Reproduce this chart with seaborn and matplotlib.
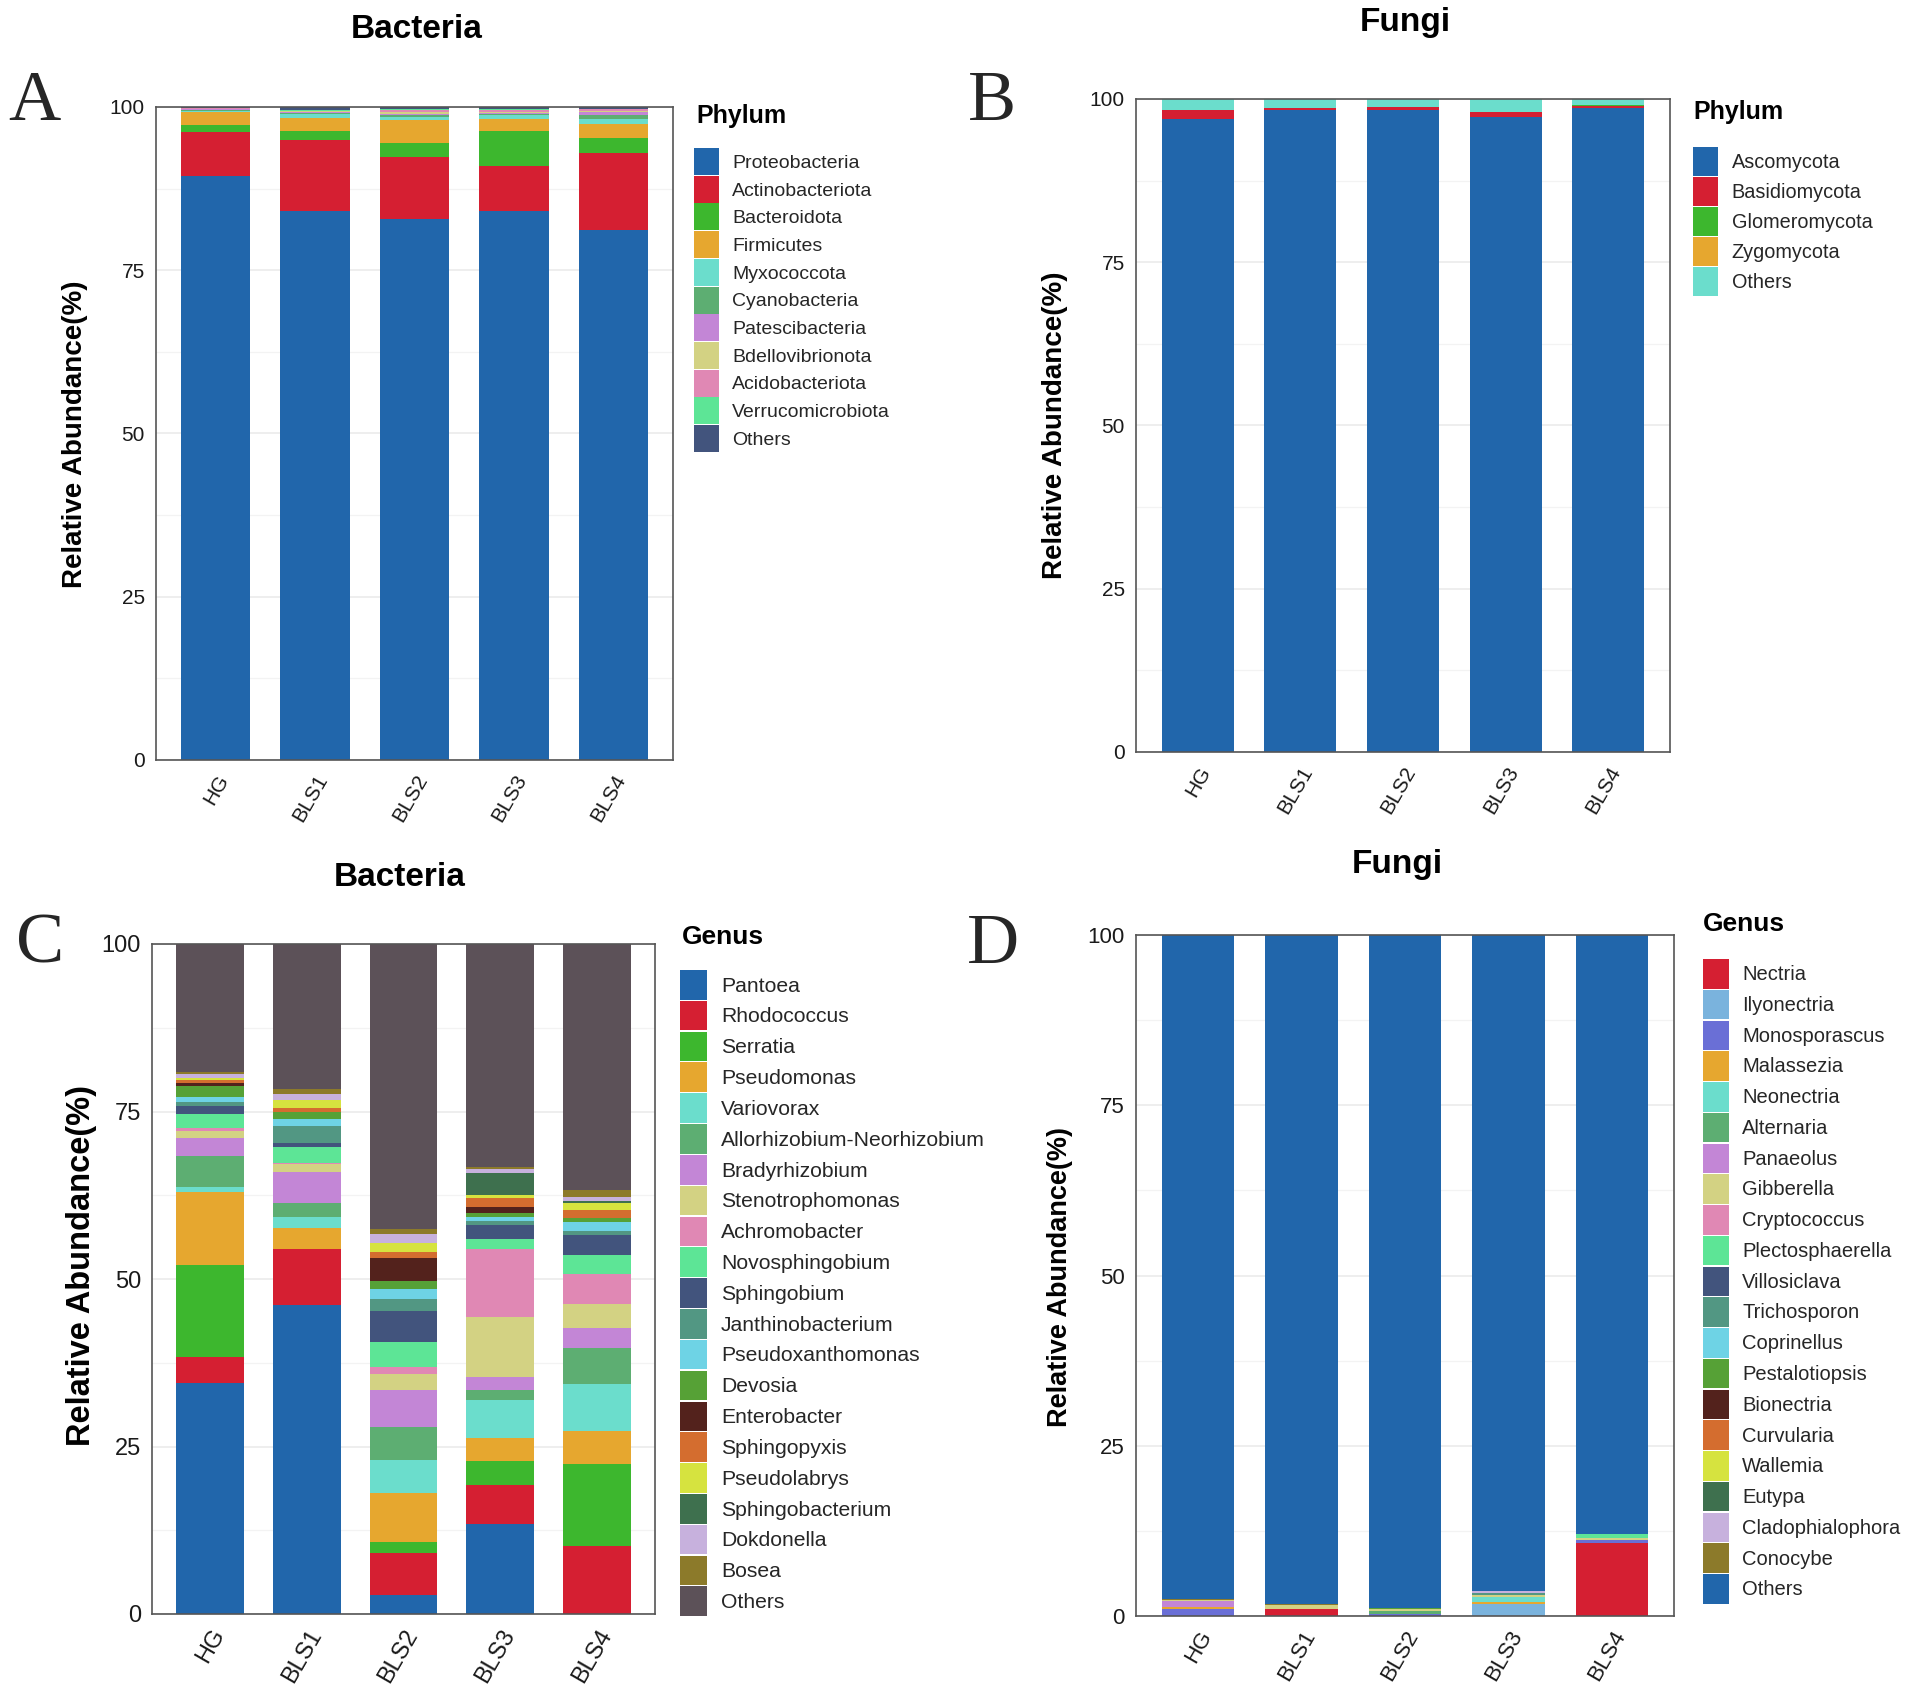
import pandas as pd
import matplotlib
matplotlib.use("Agg")
import matplotlib.pyplot as plt
from matplotlib.patches import Patch
from matplotlib.ticker import MultipleLocator
import seaborn as sns

samples = ["HG", "BLS1", "BLS2", "BLS3", "BLS4"]

# Panel A - bacterial phyla (% per sample, bottom to top)
phyla_bac = ["Proteobacteria", "Actinobacteriota", "Bacteroidota", "Firmicutes",
             "Myxococcota", "Cyanobacteria", "Patescibacteria", "Bdellovibrionota",
             "Acidobacteriota", "Verrucomicrobiota", "Others"]
a_HG = [89.4, 6.7, 1.1, 2.1, 0.1, 0.2, 0.05, 0.1, 0.05, 0.0, 0.2]
a_BLS1 = [84.1, 10.86, 1.34, 2.0, 0.6, 0.15, 0.15, 0.15, 0.1, 0.1, 0.45]
a_BLS2 = [82.85, 9.45, 2.25, 3.4, 0.55, 0.25, 0.25, 0.3, 0.25, 0.1, 0.35]
a_BLS3 = [84.1, 6.8, 5.5, 1.8, 0.6, 0.15, 0.2, 0.15, 0.3, 0.1, 0.3]
a_BLS4 = [81.1, 11.9, 2.3, 2.1, 0.8, 0.55, 0.45, 0.15, 0.3, 0.05, 0.3]

# Panel B - fungal phyla
phyla_fun = ["Ascomycota", "Basidiomycota", "Glomeromycota", "Zygomycota", "Others"]
b_HG = [96.9, 1.35, 0.03, 0.02, 1.7]
b_BLS1 = [98.25, 0.35, 0.02, 0.02, 1.36]
b_BLS2 = [98.35, 0.35, 0.02, 0.02, 1.26]
b_BLS3 = [97.3, 0.65, 0.03, 0.02, 2.0]
b_BLS4 = [98.6, 0.4, 0.02, 0.02, 0.96]

# Panel C - bacterial genera
genera_bac = ["Pantoea", "Rhodococcus", "Serratia", "Pseudomonas", "Variovorax",
              "Allorhizobium-Neorhizobium", "Bradyrhizobium", "Stenotrophomonas",
              "Achromobacter", "Novosphingobium", "Sphingobium", "Janthinobacterium",
              "Pseudoxanthomonas", "Devosia", "Enterobacter", "Sphingopyxis",
              "Pseudolabrys", "Sphingobacterium", "Dokdonella", "Bosea", "Others"]
c_HG = [34.5, 3.9, 13.7, 10.9, 0.75, 4.65, 2.7, 1.0, 0.4, 2.1, 1.2, 0.6, 0.7,
        1.7, 0.5, 0.45, 0.3, 0.0, 0.5, 0.3, 19.15]
c_BLS1 = [46.15, 8.4, 0.0, 3.0, 1.7, 2.15, 4.6, 1.1, 0.15, 2.5, 0.6, 2.55, 0.95,
          1.1, 0.0, 0.6, 1.2, 0.0, 0.8, 0.85, 21.6]
c_BLS2 = [2.85, 6.3, 1.65, 7.2, 4.95, 5.0, 5.55, 2.3, 1.05, 3.7, 4.7, 1.7, 1.5,
          1.25, 3.4, 0.95, 1.25, 0.1, 1.35, 0.65, 42.6]
c_BLS3 = [13.4, 5.85, 3.65, 3.35, 5.7, 1.45, 2.0, 9.0, 10.15, 1.45, 2.05, 0.6, 0.6,
          0.55, 0.9, 1.35, 0.45, 3.25, 0.7, 0.3, 33.25]
c_BLS4 = [0.0, 10.15, 12.25, 4.85, 7.05, 5.45, 3.0, 3.45, 4.6, 2.85, 2.95, 0.5, 1.4,
          0.6, 0.0, 1.25, 1.0, 0.3, 0.6, 1.1, 36.65]

# Panel D - fungal genera
genera_fun = ["Nectria", "Ilyonectria", "Monosporascus", "Malassezia", "Neonectria",
              "Alternaria", "Panaeolus", "Gibberella", "Cryptococcus", "Plectosphaerella",
              "Villosiclava", "Trichosporon", "Coprinellus", "Pestalotiopsis", "Bionectria",
              "Curvularia", "Wallemia", "Eutypa", "Cladophialophora", "Conocybe", "Others"]
d_HG = [0.0, 0.0, 1.0, 0.35, 0.0, 0.0, 0.8, 0.2, 0.0, 0.0, 0.0, 0.0, 0.0, 0.0,
        0.0, 0.0, 0.0, 0.0, 0.0, 0.2, 97.45]
d_BLS1 = [1.1, 0.0, 0.0, 0.0, 0.0, 0.0, 0.0, 0.45, 0.0, 0.0, 0.0, 0.0, 0.0, 0.0,
          0.0, 0.0, 0.0, 0.0, 0.0, 0.15, 98.3]
d_BLS2 = [0.0, 0.0, 0.25, 0.0, 0.0, 0.5, 0.0, 0.3, 0.0, 0.0, 0.0, 0.0, 0.0, 0.15,
          0.0, 0.0, 0.0, 0.0, 0.0, 0.0, 98.8]
d_BLS3 = [0.0, 1.7, 0.0, 0.4, 0.75, 0.0, 0.0, 0.3, 0.0, 0.0, 0.0, 0.3, 0.0, 0.0,
          0.0, 0.0, 0.0, 0.0, 0.15, 0.0, 96.4]
d_BLS4 = [10.7, 0.0, 0.45, 0.0, 0.0, 0.0, 0.0, 0.25, 0.0, 0.6, 0.0, 0.0, 0.0, 0.0,
          0.0, 0.0, 0.0, 0.0, 0.0, 0.0, 88.0]

pal = ["#2166AB", "#D51F32", "#3DB72E", "#E6A72F", "#6BDDCC", "#5DAE72", "#C386D6",
       "#D3D283", "#E088B4", "#5DE596", "#42547D", "#529783", "#6ED3E5", "#56A136",
       "#53221C", "#D46D2F", "#D6E33F", "#3E704E", "#C7B1DD", "#8C7A2A", "#5C5158"]
colors_a = pal[:11]
colors_b = pal[:5]
colors_c = pal[:21]
colors_d = [pal[1], "#7AB3DD", "#6A6FD6"] + pal[3:20] + [pal[0]]

W, H = 1905, 1684
sns.set_style("white")
plt.rcParams["font.family"] = ["Liberation Sans", "DejaVu Sans"]


def long_frame(taxa, rows):
    recs = []
    for s, vals in zip(samples, rows):
        for t, v in zip(taxa, vals):
            recs.append({"sample": s, "taxon": t, "value": v})
    return pd.DataFrame(recs)


def px_axes(fig, x0, y0, x1, y1):
    return fig.add_axes([x0 / W, 1 - y1 / H, (x1 - x0) / W, (y1 - y0) / H])


def stacked_panel(fig, box, taxa, colors, rows, tick_fs):
    ax = px_axes(fig, *box)
    df = long_frame(taxa, rows)
    # seaborn stacks the last hue level at the bottom, so reverse the order
    sns.histplot(data=df, x="sample", weights="value", hue="taxon",
                 hue_order=taxa[::-1], palette=dict(zip(taxa, colors)),
                 multiple="stack", discrete=True, shrink=0.7, alpha=1,
                 linewidth=0, legend=False, ax=ax)
    ax.set_xlim(-0.6, 4.6)
    ax.set_ylim(0, 100)
    ax.set_yticks([0, 25, 50, 75, 100])
    ax.set_yticklabels(["0", "25", "50", "75", "100"])
    ax.yaxis.set_minor_locator(MultipleLocator(12.5))
    ax.grid(axis="y", which="major", color="#EBEBEB", lw=1.2)
    ax.grid(axis="y", which="minor", color="#F3F3F3", lw=0.9)
    ax.set_axisbelow(True)
    ax.tick_params(which="minor", length=0)
    ax.tick_params(which="major", length=5, width=1.2, color="#333333",
                   labelsize=tick_fs, labelcolor="#1a1a1a", pad=3)
    ax.set_xticks(range(len(samples)))
    ax.set_xticklabels(samples, rotation=60, ha="right", va="top",
                       rotation_mode="anchor")
    for sp in ax.spines.values():
        sp.set_color("#555555")
        sp.set_linewidth(1.2)
    ax.set_xlabel("")
    ax.set_ylabel("")
    return ax


def add_legend(fig, taxa, colors, x, y, fs, hl, hh, ls, tp):
    handles = [Patch(facecolor=c, edgecolor="none", label=t) for t, c in zip(taxa, colors)]
    fig.legend(handles=handles, loc="upper left", bbox_to_anchor=(x / W, 1 - y / H),
               frameon=False, borderpad=0, borderaxespad=0, fontsize=fs,
               handlelength=hl, handleheight=hh, labelspacing=ls, handletextpad=tp)


def ftext(fig, x, y, s, **kw):
    fig.text(x / W, 1 - y / H, s, **kw)


fig = plt.figure(figsize=(W / 100, H / 100), dpi=100)

stacked_panel(fig, (156, 107, 673, 760), phyla_bac, colors_a,
              [a_HG, a_BLS1, a_BLS2, a_BLS3, a_BLS4], 15)
stacked_panel(fig, (1136, 99, 1670, 752), phyla_fun, colors_b,
              [b_HG, b_BLS1, b_BLS2, b_BLS3, b_BLS4], 15)
stacked_panel(fig, (152, 944, 655, 1614), genera_bac, colors_c,
              [c_HG, c_BLS1, c_BLS2, c_BLS3, c_BLS4], 17)
stacked_panel(fig, (1136, 935, 1674, 1616), genera_fun, colors_d,
              [d_HG, d_BLS1, d_BLS2, d_BLS3, d_BLS4], 16)

add_legend(fig, phyla_bac, colors_a, 694, 148, 14, 1.29, 1.76, 0.036, 0.67)
add_legend(fig, phyla_fun, colors_b, 1693, 147, 14.3, 1.24, 1.84, 0.07, 0.7)
add_legend(fig, genera_bac, colors_c, 680, 970, 15.2, 1.28, 1.78, 0.058, 0.66)
add_legend(fig, genera_fun, colors_d, 1703, 959, 14.5, 1.28, 1.88, 0.06, 0.66)

bold = dict(fontweight="bold", color="black")
ftext(fig, 696, 116, "Phylum", fontsize=18, ha="left", va="center", **bold)
ftext(fig, 1693, 112, "Phylum", fontsize=18, ha="left", va="center", **bold)
ftext(fig, 682, 937, "Genus", fontsize=19, ha="left", va="center", **bold)
ftext(fig, 1703, 924, "Genus", fontsize=19, ha="left", va="center", **bold)

ftext(fig, 417, 30, "Bacteria", fontsize=24, ha="center", va="center", **bold)
ftext(fig, 1405, 22, "Fungi", fontsize=24, ha="center", va="center", **bold)
ftext(fig, 400, 878, "Bacteria", fontsize=24, ha="center", va="center", **bold)
ftext(fig, 1397, 864, "Fungi", fontsize=24, ha="center", va="center", **bold)

ftext(fig, 75, 434, "Relative Abundance(%)", fontsize=20, rotation=90, ha="center", va="center", **bold)
ftext(fig, 1055, 425, "Relative Abundance(%)", fontsize=20, rotation=90, ha="center", va="center", **bold)
ftext(fig, 82, 1265, "Relative Abundance(%)", fontsize=23.5, rotation=90, ha="center", va="center", **bold)
ftext(fig, 1060, 1277, "Relative Abundance(%)", fontsize=19.5, rotation=90, ha="center", va="center", **bold)

serif = dict(family=["Liberation Serif", "DejaVu Serif"], fontsize=52, ha="center", va="center")
ftext(fig, 34, 103, "A", **serif)
ftext(fig, 992, 103, "B", **serif)
ftext(fig, 40, 945, "C", **serif)
ftext(fig, 993, 945, "D", **serif)

fig.savefig("out.png", dpi=100)
